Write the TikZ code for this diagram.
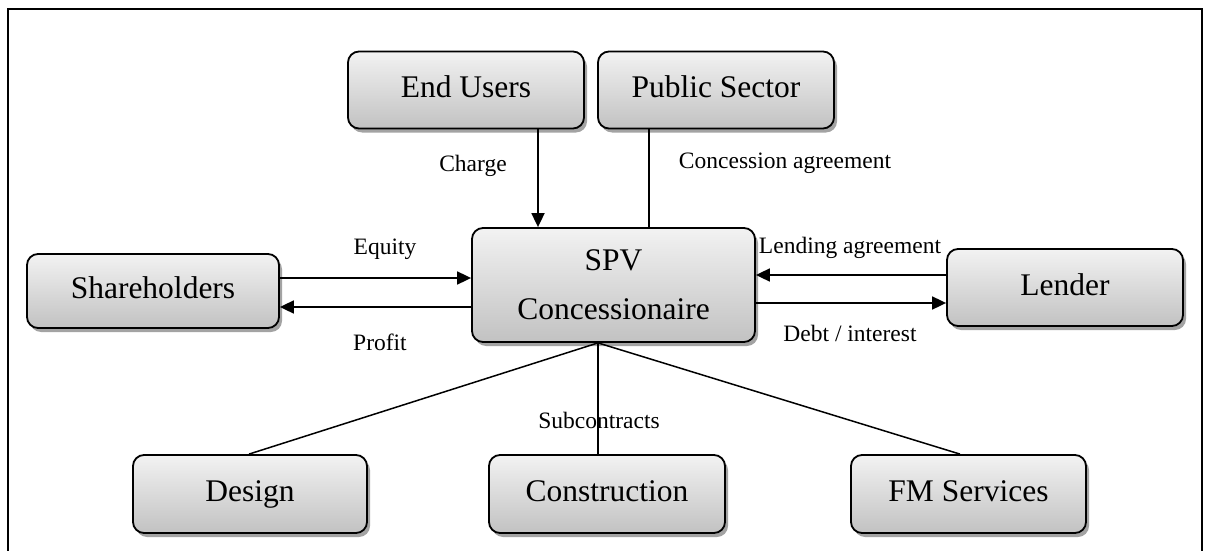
\documentclass[tikz,border=0pt]{standalone}
\usepackage{fontspec}
\setmainfont{Liberation Serif}
\usetikzlibrary{shadows,arrows.meta}
\begin{document}
\begin{tikzpicture}[x=1pt,y=-1pt,
  boxbase/.style={draw=black, line width=1.8pt, rounded corners=11pt,
    top color=white!95!black, bottom color=white!76!black,
    drop shadow={shadow xshift=3pt, shadow yshift=-4pt, fill=black!45, opacity=0.8},
    inner sep=0pt, font=\fontsize{31.5}{38}\selectfont, align=center},
  box/.style={boxbase, text height=21pt, text depth=6pt},
  lbl/.style={font=\fontsize{23.5}{28}\selectfont, inner sep=0pt},
  arr/.style={line width=1.8pt, -{Triangle[length=14pt,width=13pt]}},
  ln/.style={line width=1.5pt}]
\useasboundingbox (0,0) rectangle (1211,551);
\draw[line width=2pt] (8,551) -- (8,9) -- (1202,9) -- (1202,551);
% nodes
\node[box, minimum width=236pt, minimum height=77pt] (eu) at (466,90) {End Users};
\node[box, minimum width=236pt, minimum height=77pt] (pub) at (716,90) {Public Sector};
\node[boxbase, minimum width=283pt, minimum height=114pt] (spv) at (613.5,285) {SPV\\[11pt]Concessionaire};
\node[box, minimum width=252pt, minimum height=74pt] (sh) at (153,291) {Shareholders};
\node[box, minimum width=236pt, minimum height=77pt] (lend) at (1065,287.5) {Lender};
\node[box, minimum width=234pt, minimum height=78pt] (des) at (250,494) {Design};
\node[box, minimum width=236pt, minimum height=78pt] (con) at (607,494) {Construction};
\node[box, minimum width=235pt, minimum height=78pt] (fm) at (968.5,494) {FM Services};
% connectors
\draw[arr] ([xshift=72pt]eu.south) -- ([xshift=72pt]eu.south |- spv.north);
\draw[ln] ([xshift=-67pt]pub.south) -- ([xshift=-67pt]pub.south |- spv.north);
\draw[arr] ([yshift=13pt]sh.east) -- ([yshift=13pt]sh.east -| spv.west);
\draw[arr] ([yshift=-16pt]sh.east -| spv.west) -- ([yshift=-16pt]sh.east);
\draw[arr] ([yshift=12.5pt]lend.west) -- ([yshift=12.5pt]lend.west -| spv.east);
\draw[arr] ([yshift=-15.5pt]lend.west -| spv.east) -- ([yshift=-15.5pt]lend.west);
\draw[ln] ([xshift=-15.5pt]spv.south) -- ([xshift=-1pt]des.north);
\draw[ln] ([xshift=-15.5pt]spv.south) -- ([xshift=-9pt]con.north);
\draw[ln] ([xshift=-15.5pt]spv.south) -- ([xshift=-8.5pt]fm.north);
% labels
\node[lbl] (lcharge) at (473,166) {Charge};
\node[lbl] (lconc) at (785,163) {Concession agreement};
\node[lbl] (lequity) at (385,249) {Equity};
\node[lbl] (lprofit) at (380,342) {Profit};
\node[lbl] (llend) at (850,248) {Lending agreement};
\node[lbl] (ldebt) at (850,333) {Debt / interest};
\node[lbl] (lsub) at (599,420) {Subcontracts};
\end{tikzpicture}
\end{document}
